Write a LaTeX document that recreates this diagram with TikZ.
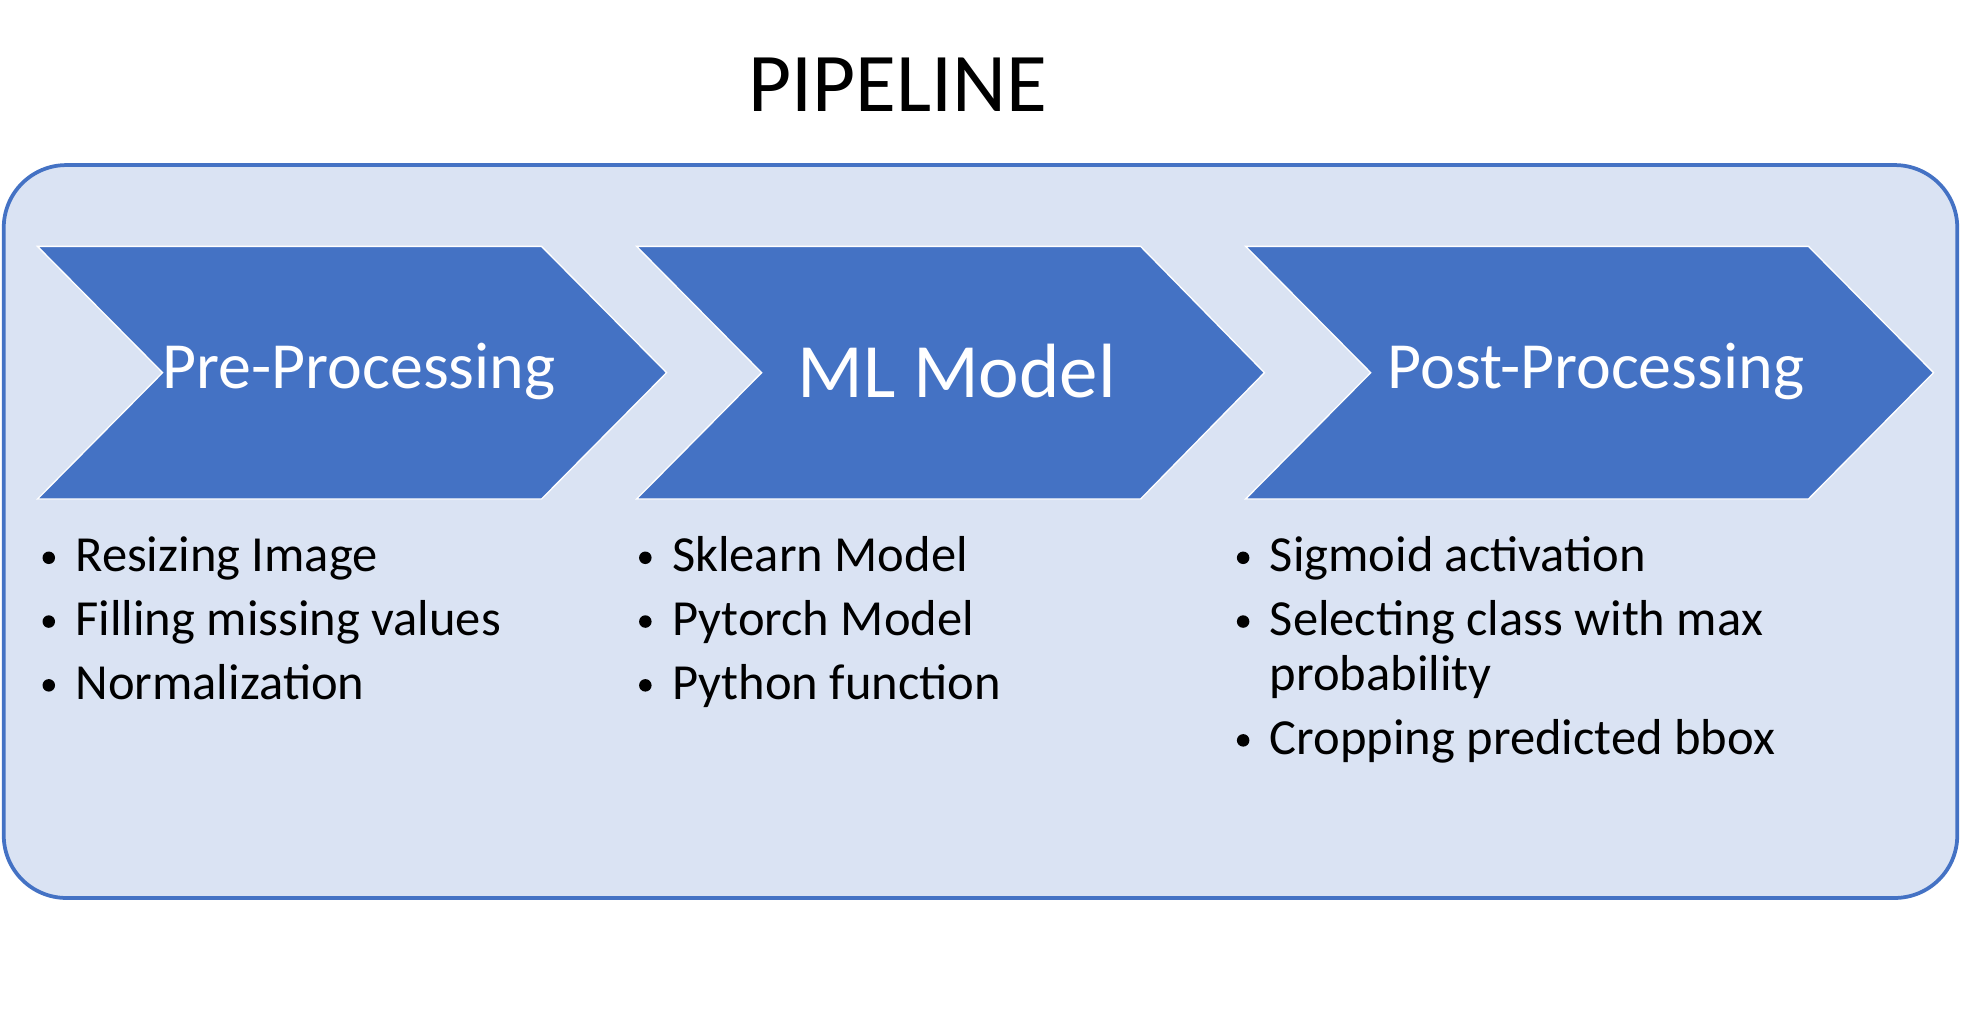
\documentclass[tikz,border=0pt]{standalone}
\usepackage{fontspec}
\setmainfont{Carlito}
\definecolor{bl}{HTML}{4472C4}
\definecolor{lt}{HTML}{DAE3F3}
\begin{document}
\begin{tikzpicture}[x=0.02cm,y=-0.02cm,
 chev/.style={fill=bl,draw=white,line width=0.6pt},
 head/.style={text=white,inner sep=0},
 item/.style={anchor=base west,inner sep=0,font=\fontsize{23}{28}\selectfont},
 dot/.style={circle,fill=black,inner sep=0,minimum size=0.2cm}]
\useasboundingbox (0,0) rectangle (1568,813);
\node[inner sep=0,font=\fontsize{38}{44}\selectfont] (title) at (718,68) {PIPELINE};
\draw[fill=lt,draw=bl,line width=0.06cm,rounded corners=1cm] (3,132) rectangle (1565,718);
\path[chev] (30,197) -- (433,197) -- (533,298) -- (433,399) -- (30,399) -- (130,298) -- cycle;
\path[chev] (509,197) -- (912,197) -- (1011,298) -- (912,399) -- (509,399) -- (609,298) -- cycle;
\path[chev] (996,197) -- (1446,197) -- (1546,298) -- (1446,399) -- (996,399) -- (1096,298) -- cycle;
\node[head,font=\fontsize{30}{36}\selectfont] (h1) at (287,297) {Pre-Processing};
\node[head,font=\fontsize{35}{42}\selectfont] (h2) at (765,297) {ML Model};
\node[head,font=\fontsize{30}{36}\selectfont] (h3) at (1276,297) {Post-Processing};
\foreach \x/\y/\t [count=\i] in {60/457/Resizing Image,60/508/Filling missing values,60/559/Normalization,
 537/457/Sklearn Model,537/508/Pytorch Model,537/559/Python function,
 1015/457/Sigmoid activation,1015/508/Selecting class with max,1015/603/Cropping predicted bbox}{
 \node[item] (t\i) at (\x,\y) {\t};
 \node[dot] (d\i) at (\x-21,\y-11) {};
}
\node[item] (t10) at (1015,552) {probability};
\end{tikzpicture}
\end{document}
